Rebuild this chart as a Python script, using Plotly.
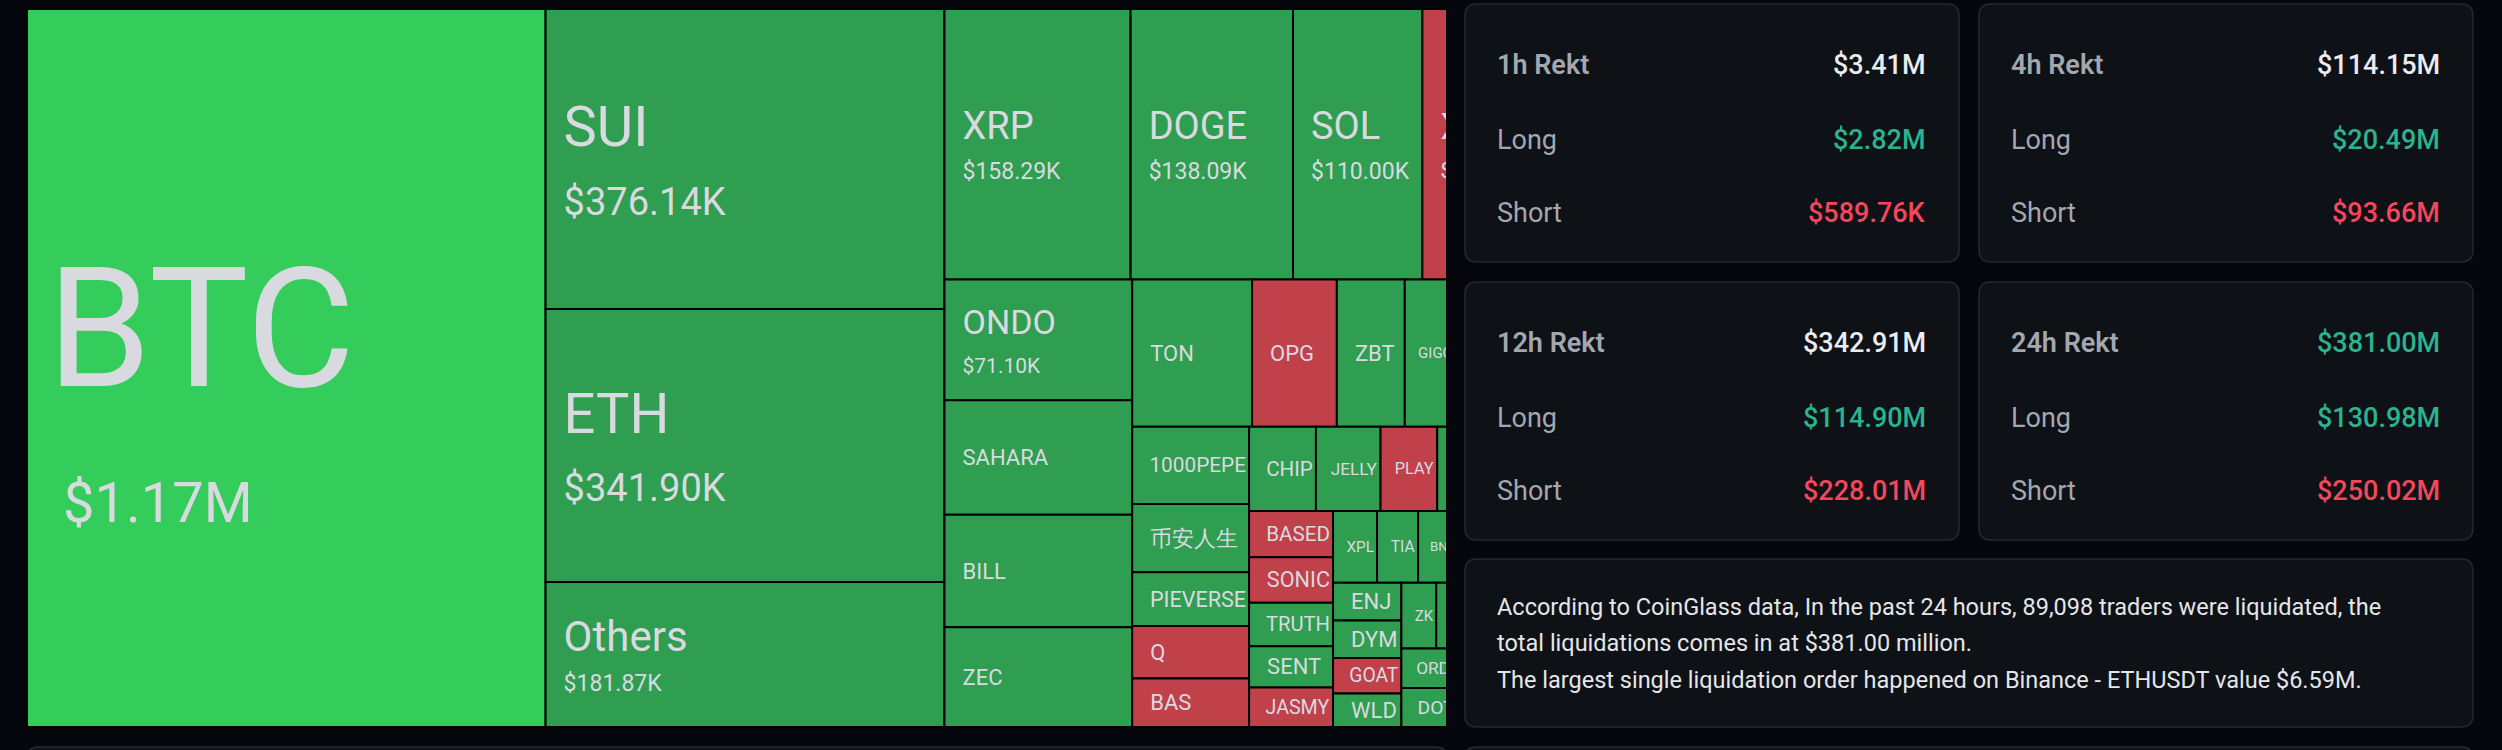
import math
import plotly.graph_objects as go

# ---------------- data ----------------
coins = ["BTC", "SUI", "ETH", "Others", "XRP", "DOGE", "SOL", "XLM", "ONDO", "SAHARA", "BILL", "ZEC",
         "TON", "OPG", "ZBT", "GIGGLE", "ASTER", "1000PEPE", "币安人生", "PIEVERSE", "Q", "BAS",
         "CHIP", "JELLY", "PLAY", "HYPE", "ENA", "BASED", "SONIC", "TRUTH", "SENT", "JASMY",
         "XPL", "TIA", "BNB", "AVAX", "LINK", "ENJ", "DYM", "GOAT", "WLD", "ZK", "ADA", "SUSHI", "LTC",
         "ORDI", "DOT", "NEAR", "ARB", "OP", "APT"]
liq_k = [1170.0, 376.14, 341.90, 181.87, 158.29, 138.09, 110.00, 100.0, 71.10, 67.6, 66.4, 58.8,
         55.4, 39.2, 31.4, 31.3, 31.2, 28.4, 25.1, 19.7, 19.3, 17.8,
         17.7, 17.1, 15.0, 13.7, 13.5, 12.2, 12.0, 11.5, 10.9, 10.4,
         9.95, 9.27, 9.25, 9.2, 9.1, 8.1, 8.05, 7.6, 7.2, 7.2, 7.18, 7.15, 7.1,
         6.95, 6.9, 5.4, 5.1, 4.9, 4.9]
dominant = ["L*", "L", "L", "L", "L", "L", "L", "S", "L", "L", "L", "L",
            "L", "S", "L", "L", "L", "L", "L", "L", "S", "S",
            "L", "L", "S", "L", "L", "S", "S", "L", "L", "S",
            "L", "L", "L", "L", "L", "L", "L", "S", "L", "L", "L", "L", "L",
            "L", "L", "L", "L", "L", "L"]

periods = ["1h", "4h", "12h", "24h"]
total_m = [3.41, 114.15, 342.91, 381.00]
long_m = [2.82, 20.49, 114.90, 130.98]
short_m = [0.58976, 93.66, 228.01, 250.02]

traders = 89098
total_24h_m = 381.00
largest_exchange = "Binance"
largest_symbol = "ETHUSDT"
largest_value_m = 6.59

# ---------------- style ----------------
W, H = 2502, 750
BG = "#05070c"
CARD = "#0e1116"
CARD_LINE = "#252930"
TXT = "#d9dae0"
GREEN_TXT = "#2ab38e"
RED_TXT = "#f6465d"
tile_colors = {"L*": "#34cc5b", "L": "#2f9e50", "S": "#c04149"}


def fmt_k(v):
    return f"${v / 1000:.2f}M" if v >= 1000 else f"${v:.2f}K"


def fmt_m(v):
    return f"${v:.2f}M" if v >= 1 else f"${v * 1000:.2f}K"


def tier(rank):
    # (label size, value size, line-spacing base size, label inset, value inset, label strut size)
    if rank == 0:
        return 167, 56, 104, 17, 33, 200
    if rank <= 2:
        return 56, 38, 53, 15, 15, None
    if rank == 3:
        return 42, 23, 31, 15, 15, None
    if rank <= 7:
        return 38, 23, 31, 15, 15, None
    if rank == 8:
        return 34, 21, 30, 15, 15, None
    return 22, None, 22, 15, 15, None


def inset(size, px, strut=None):
    if strut:
        # single taller blank that lifts the line box, with its advance trimmed to px
        ls = px - 0.2476 * strut
        return f"<span style='font-size:{strut}px;letter-spacing:{ls:.1f}px'>\u00a0</span>"
    n = math.ceil(px / (0.2476 * size))
    sp = px / (0.2476 * n)
    return f"<span style='font-size:{sp:.1f}px'>" + "\u00a0" * n + "</span>"


order = sorted(range(len(coins)), key=lambda i: -liq_k[i])
rank_of = {i: r for r, i in enumerate(order)}

texts, fsizes = [], []
for i, (c, v) in enumerate(zip(coins, liq_k)):
    ls, vs, base, li, vi, strut = tier(rank_of[i])
    t = inset(ls, li, strut) + f"<span style='font-size:{ls}px'>{c}</span>"
    if vs:
        t += "<br>" + inset(vs, vi) + f"<span style='font-size:{vs}px'>{fmt_k(v)}</span>"
    texts.append(t)
    fsizes.append(base)

colors = [tile_colors[d] for d in dominant]

fig = go.Figure(go.Treemap(
    labels=coins,
    parents=[""] * len(coins),
    values=liq_k,
    sort=True,
    tiling=dict(packing="squarify", squarifyratio=1.618, pad=0),
    marker=dict(colors=colors, line=dict(width=2, color="#000000"),
                pad=dict(t=0, l=0, r=0, b=0)),
    text=texts,
    texttemplate="%{text}",
    textposition="middle left",
    textfont=dict(family="Roboto", size=fsizes, color=TXT),
    pathbar=dict(visible=False),
    hoverinfo="skip",
    root=dict(color=BG),
    domain=dict(x=[27 / W, 1540 / W], y=[1 - 727 / H, 1 - 9 / H]),
))


def X(px):
    return px / W


def Y(py):
    return 1 - py / H


def rrect(x0, y0, x1, y1, r=12):
    return (f"M {X(x0 + r)},{Y(y0)} L {X(x1 - r)},{Y(y0)} Q {X(x1)},{Y(y0)} {X(x1)},{Y(y0 + r)} "
            f"L {X(x1)},{Y(y1 - r)} Q {X(x1)},{Y(y1)} {X(x1 - r)},{Y(y1)} "
            f"L {X(x0 + r)},{Y(y1)} Q {X(x0)},{Y(y1)} {X(x0)},{Y(y1 - r)} "
            f"L {X(x0)},{Y(y0 + r)} Q {X(x0)},{Y(y0)} {X(x0 + r)},{Y(y0)} Z")


shapes = [dict(type="rect", xref="paper", yref="paper", x0=X(1446), x1=1.02, y0=-0.02, y1=1.02,
               fillcolor=BG, line=dict(width=0), layer="above")]
cards = [(1465, 4, 1959, 262), (1979, 4, 2473, 262), (1465, 282, 1959, 540), (1979, 282, 2473, 540)]
for (x0, y0, x1, y1) in cards + [(1465, 559, 2473, 727), (1465, 747, 2473, 820), (27, 747, 1447, 820)]:
    shapes.append(dict(type="path", xref="paper", yref="paper", path=rrect(x0, y0, x1, y1),
                       fillcolor=CARD, line=dict(width=1.5, color=CARD_LINE), layer="above"))

annotations = []
row_off = [61, 136, 209]
for k, (x0, y0, x1, y1) in enumerate(cards):
    rows = [
        (f"{periods[k]} Rekt", 600, "#a3a8b0", fmt_m(total_m[k]),
         GREEN_TXT if periods[k] == "24h" else "#eaecef"),
        ("Long", 400, "#a3a8b0", fmt_m(long_m[k]), GREEN_TXT),
        ("Short", 400, "#a3a8b0", fmt_m(short_m[k]), RED_TXT),
    ]
    for (lab, wt, lc, val, vc), off in zip(rows, row_off):
        annotations.append(dict(xref="paper", yref="paper", x=X(x0 + 30), y=Y(y0 + off),
                                xanchor="left", yanchor="middle", showarrow=False, text=lab,
                                font=dict(family="Roboto", size=27, color=lc, weight=wt)))
        annotations.append(dict(xref="paper", yref="paper", x=X(x1 - 31), y=Y(y0 + off),
                                xanchor="right", yanchor="middle", showarrow=False, text=val,
                                font=dict(family="Roboto", size=27, color=vc, weight=500)))

summary = [
    f"According to CoinGlass data, In the past 24 hours, {traders:,} traders were liquidated, the",
    f"total liquidations comes in at ${total_24h_m:.2f} million.",
    f"The largest single liquidation order happened on {largest_exchange} - {largest_symbol} value ${largest_value_m:.2f}M.",
]
for line, yy in zip(summary, [607, 643, 680]):
    annotations.append(dict(xref="paper", yref="paper", x=X(1495), y=Y(yy), xanchor="left",
                            yanchor="middle", showarrow=False, text=line,
                            font=dict(family="Roboto", size=23.5, color="#e4e6ea")))

fig.update_layout(width=W, height=H, margin=dict(l=0, r=0, t=0, b=0),
                  paper_bgcolor=BG, plot_bgcolor=BG, shapes=shapes, annotations=annotations,
                  showlegend=False)

fig.write_html("out.html")
